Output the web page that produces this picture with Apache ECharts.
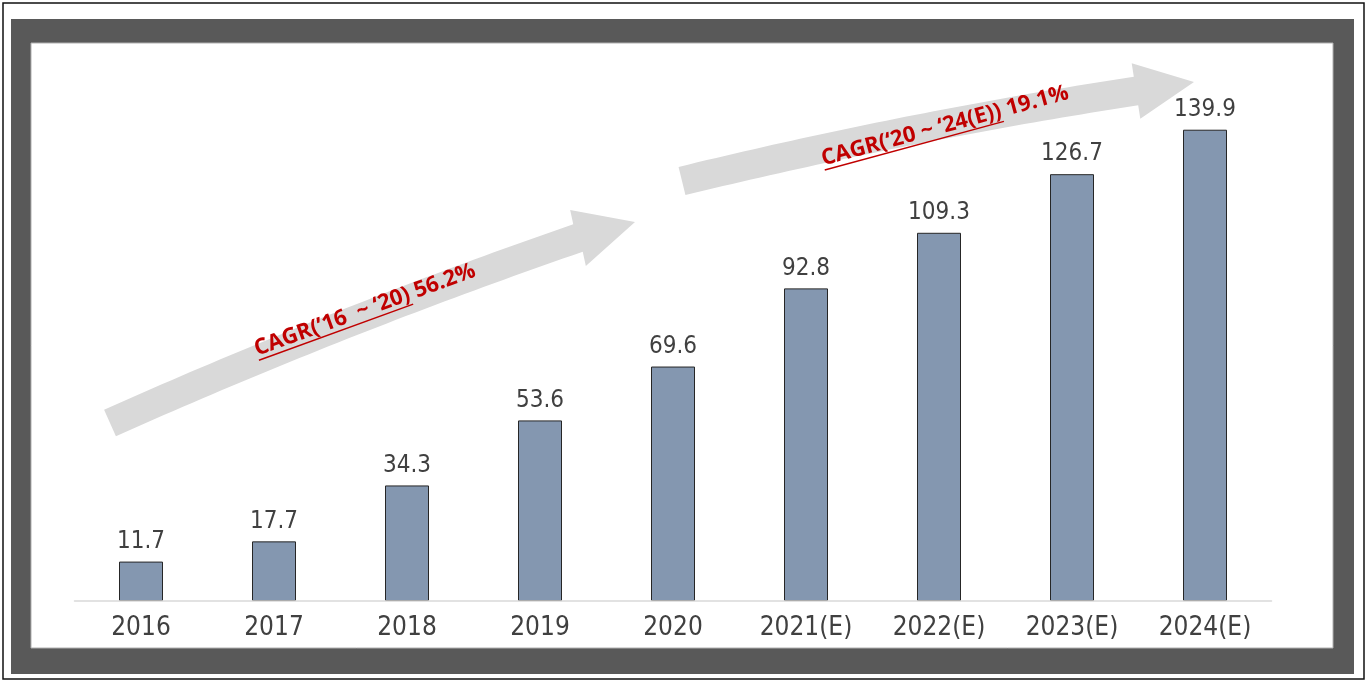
<!DOCTYPE html>
<html>
<head>
<meta charset="utf-8">
<script src="https://cdn.jsdelivr.net/npm/echarts@6/dist/echarts.min.js"></script>
<style>
  html, body { margin: 0; padding: 0; background: #fff; }
  #chart { width: 1372px; height: 681px; }
</style>
</head>
<body>
<div id="chart"></div>
<script>
// Market size by year (E = estimate)
const years = ['2016', '2017', '2018', '2019', '2020', '2021(E)', '2022(E)', '2023(E)', '2024(E)'];
const marketSize = [11.7, 17.7, 34.3, 53.6, 69.6, 92.8, 109.3, 126.7, 139.9];

// Growth-rate callouts: underlined period part + rate part
const cagrPeriods = ['CAGR(\u201916  ~ \u201820)', 'CAGR(\u201820 ~ \u201824(E))'];
const cagrRates = ['56.2%', '19.1%'];

const chart = echarts.init(document.getElementById('chart'), null, { renderer: 'canvas' });

const NUM_FONT = "'DejaVu Sans Condensed', 'DejaVu Sans', sans-serif";
const CAGR_FONT_SIZE = 22;
const CAGR_FONT = "'Open Sans', 'Noto Sans', sans-serif";

// measure text width with a canvas context
const measureCtx = document.createElement('canvas').getContext('2d');
function textWidth(str, size, family, weight) {
  measureCtx.font = (weight || 'normal') + ' ' + size + 'px ' + family;
  return measureCtx.measureText(str).width;
}

// Block arrow with a gently bowed shaft: quadratic centreline from tail to head base,
// the control point sits `bow` px above the chord midpoint; a triangular head follows.
function curvedArrow(tail, base, tip, bow, shaftW, headHalf) {
  const cx0 = (tail[0] + base[0]) / 2, cy0 = (tail[1] + base[1]) / 2;
  const chx = base[0] - tail[0], chy = base[1] - tail[1];
  const chl = Math.hypot(chx, chy);
  const ctrl = [cx0 + (chy / chl) * bow, cy0 - (chx / chl) * bow];
  const n = 48, left = [], right = [];
  for (let i = 0; i <= n; i++) {
    const t = i / n, u = 1 - t;
    const x = u * u * tail[0] + 2 * u * t * ctrl[0] + t * t * base[0];
    const y = u * u * tail[1] + 2 * u * t * ctrl[1] + t * t * base[1];
    const dx = 2 * u * (ctrl[0] - tail[0]) + 2 * t * (base[0] - ctrl[0]);
    const dy = 2 * u * (ctrl[1] - tail[1]) + 2 * t * (base[1] - ctrl[1]);
    const len = Math.hypot(dx, dy);
    const nx = -dy / len, ny = dx / len;
    left.push([x + nx * shaftW / 2, y + ny * shaftW / 2]);
    right.push([x - nx * shaftW / 2, y - ny * shaftW / 2]);
  }
  const hx = tip[0] - base[0], hy = tip[1] - base[1];
  const hl = Math.hypot(hx, hy);
  const px = -hy / hl, py = hx / hl;
  const headA = [base[0] + px * headHalf, base[1] + py * headHalf];
  const headB = [base[0] - px * headHalf, base[1] - py * headHalf];
  return left.concat([headA, tip, headB], right.reverse());
}

// Rotated red callout text with an underline under the period part
function cagrText(cx, cy, angleDeg, period, rate) {
  const full = period + ' ' + rate;
  const wFull = textWidth(full, CAGR_FONT_SIZE, CAGR_FONT, 'bold');
  const wPeriod = textWidth(period, CAGR_FONT_SIZE, CAGR_FONT, 'bold');
  const uy = CAGR_FONT_SIZE * 0.5;
  return {
    type: 'group',
    x: cx, y: cy,
    rotation: angleDeg * Math.PI / 180,
    z: 5,
    children: [
      {
        type: 'text',
        style: {
          text: full, x: 0, y: 0, align: 'center', verticalAlign: 'middle',
          fill: '#c00000', fontSize: CAGR_FONT_SIZE, fontWeight: 'bold', fontFamily: CAGR_FONT
        }
      },
      {
        type: 'line',
        shape: { x1: -wFull / 2, y1: uy, x2: -wFull / 2 + wPeriod, y2: uy },
        style: { stroke: '#c00000', lineWidth: 1.5 }
      }
    ]
  };
}

const graphics = [
  // page frame
  { type: 'rect', z: -10, shape: { x: 3, y: 3, width: 1361, height: 676 },
    style: { fill: '#ffffff', stroke: '#111111', lineWidth: 1.5 } },
  { type: 'rect', z: -9, shape: { x: 11, y: 19, width: 1343, height: 655 },
    style: { fill: '#595959' } },
  { type: 'rect', z: -8, shape: { x: 31, y: 43, width: 1302, height: 605 },
    style: { fill: '#ffffff', stroke: '#b0b0b0', lineWidth: 1 } },
  // growth arrows
  { type: 'polygon', z: -5,
    shape: { points: curvedArrow([110, 423], [578, 238], [635, 222], 11, 29, 29) },
    style: { fill: '#d9d9d9' } },
  { type: 'polygon', z: -5,
    shape: { points: curvedArrow([682, 181], [1136, 91], [1194, 82], 10, 29, 28) },
    style: { fill: '#d9d9d9' } },
  cagrText(365, 310, 20, cagrPeriods[0], cagrRates[0]),
  cagrText(945, 126, 15.2, cagrPeriods[1], cagrRates[1])
];

chart.setOption({
  animation: false,
  backgroundColor: '#ffffff',
  grid: { left: 74.5, right: 100.5, top: 62, bottom: 80, containLabel: false },
  xAxis: {
    type: 'category',
    data: years,
    axisLine: { show: true, lineStyle: { color: '#d9d9d9', width: 1.5 } },
    axisTick: { show: false },
    axisLabel: { color: '#404040', fontSize: 26, fontFamily: NUM_FONT, margin: 14 },
    z: 3
  },
  yAxis: {
    type: 'value',
    min: 0, max: 160,
    show: false,
    splitLine: { show: false }
  },
  series: [{
    type: 'bar',
    data: marketSize,
    barWidth: 44,
    itemStyle: { color: '#8497b0', borderColor: '#262626', borderWidth: 1 },
    label: {
      show: true, position: 'top', distance: 8,
      color: '#404040', fontSize: 24, fontFamily: NUM_FONT,
      formatter: p => p.value.toFixed(1)
    },
    z: 2
  }],
  graphic: graphics
});
</script>
</body>
</html>
